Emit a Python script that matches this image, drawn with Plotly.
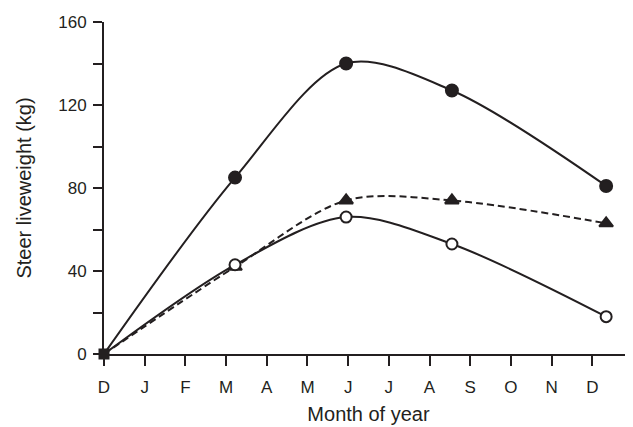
import plotly.graph_objects as go

months = ["D", "J", "F", "M", "A", "M", "J", "J", "A", "S", "O", "N", "D"]
sample_x = [0, 3.22, 5.95, 8.55, 12.34]
filled_circle = [0, 85, 140, 127, 81]
triangle = [0, 42, 74, 74, 63]
open_circle = [0, 43, 66, 53, 18]

ink = "#231f20"
fig = go.Figure()

def add(y, dash, symbol, fill, size):
    fig.add_trace(go.Scatter(
        x=sample_x, y=y, mode="lines",
        line=dict(color=ink, width=2, shape="spline", smoothing=0.9, dash=dash),
        showlegend=False, hoverinfo="skip"))
    fig.add_trace(go.Scatter(
        x=sample_x[1:], y=y[1:], mode="markers",
        marker=dict(symbol=symbol, size=size, color=fill, line=dict(color=ink, width=2)),
        showlegend=False))

add(filled_circle, "solid", "circle", ink, 12)
add(triangle, "7px,4px", "triangle-up", ink, 12)
add(open_circle, "solid", "circle", "white", 11)

fig.add_trace(go.Scatter(x=[sample_x[0]], y=[0], mode="markers",
                         marker=dict(symbol="square", size=11, color=ink),
                         showlegend=False, cliponaxis=False))

# page body adds an 8 px offset, so the figure is sized to fit the window
fig.update_layout(
    width=625, height=419,
    margin=dict(l=96, r=0, t=14, b=73),
    paper_bgcolor="white", plot_bgcolor="white",
    font=dict(family="Liberation Sans, Arial, sans-serif", size=17, color=ink),
    xaxis=dict(range=[0, 13], tickmode="array", tickvals=list(range(14)),
               ticktext=months + [""], ticks="outside", ticklen=10, tickwidth=2,
               tickcolor=ink, showline=True, linecolor=ink, linewidth=2,
               showgrid=False, zeroline=False, automargin=False,
               ticklabelstandoff=7,
               title=dict(text="Month of year", standoff=11)),
    yaxis=dict(range=[0, 160], tickmode="array", tickvals=list(range(0, 161, 20)),
               ticktext=[str(v) if v % 40 == 0 else "" for v in range(0, 161, 20)],
               ticks="outside", ticklen=9, tickwidth=2, tickcolor=ink,
               showline=True, linecolor=ink, linewidth=2, showgrid=False, zeroline=False,
               automargin=False, ticklabelstandoff=3,
               title=dict(text="Steer liveweight (kg)", standoff=21)),
)
fig.write_html("out.html")
